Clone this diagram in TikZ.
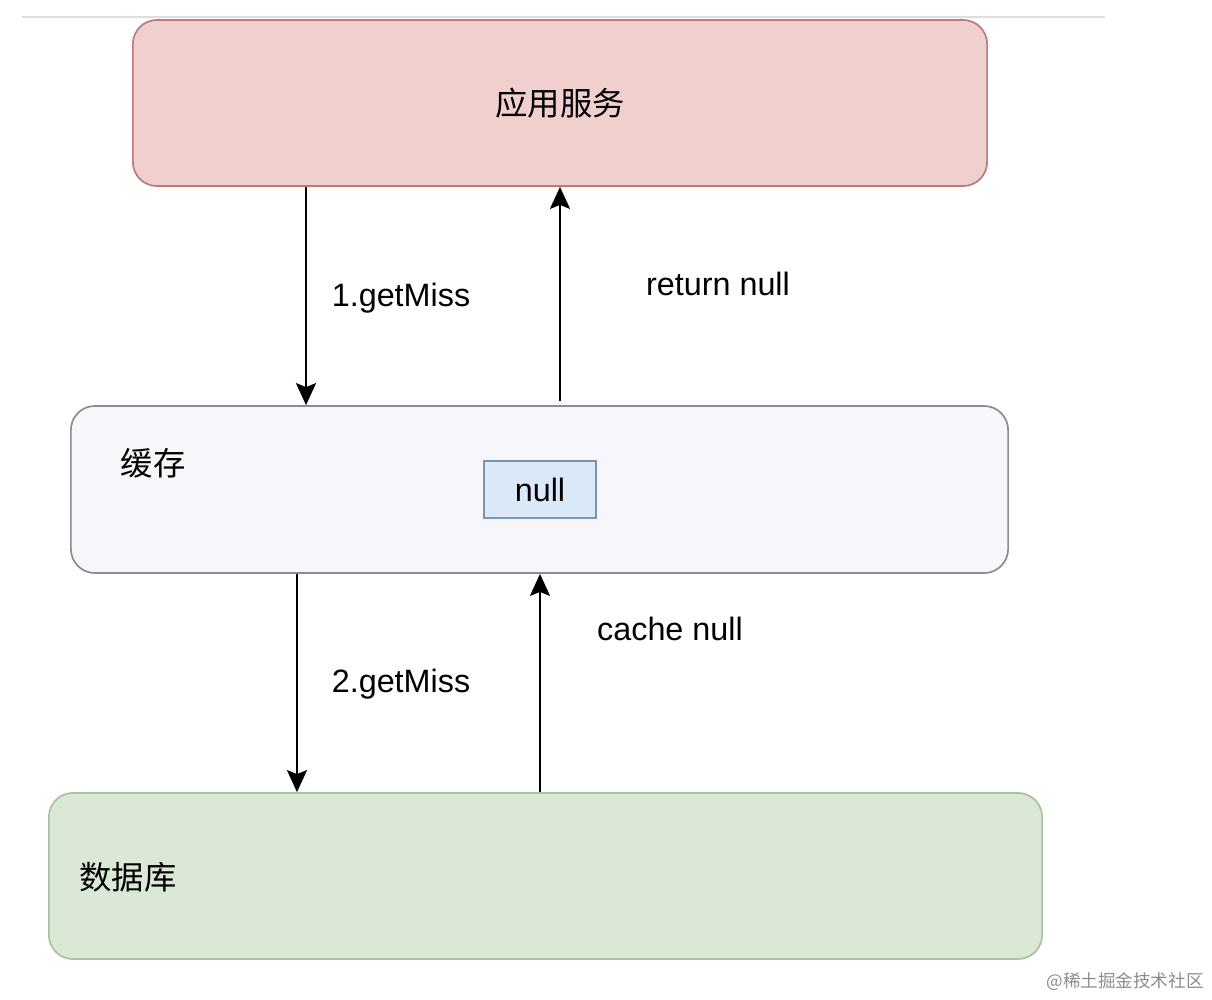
\documentclass[tikz,border=0pt]{standalone}
\usepackage{fontspec}
\setmainfont{Liberation Sans}
\newfontfamily\cjk{Noto Sans CJK SC}
\usepackage{xcolor}
\definecolor{appfill}{RGB}{242, 207, 207}
\definecolor{appdraw}{RGB}{188, 122, 122}
\definecolor{cachefill}{RGB}{247, 246, 250}
\definecolor{cachedraw}{RGB}{140, 140, 140}
\definecolor{nullfill}{RGB}{218, 232, 248}
\definecolor{nulldraw}{RGB}{125, 148, 176}
\definecolor{dbfill}{RGB}{220, 232, 214}
\definecolor{dbdraw}{RGB}{169, 194, 157}
\usetikzlibrary{arrows.meta, positioning}

\begin{document}
\begin{tikzpicture}[
    x=0.025cm, y=-0.025cm,
    layer/.style={rectangle, rounded corners=0.6cm, line width=1.2pt, inner sep=0pt,
                  font=\fontsize{23}{27}\selectfont},
    txt/.style={inner sep=0pt, font=\fontsize{23}{27}\selectfont},
    flow/.style={line width=1.8pt, -{Stealth[length=0.55cm, width=0.5cm, inset=0.1cm]}}
]
    \useasboundingbox (0,0) rectangle (1212,1000);
    % thin rule at the top
    \draw[black!13, line width=1.2pt] (22,17) -- (1105,17);

    % three layers
    \node[layer, fill=appfill, draw=appdraw, minimum width=21.35cm, minimum height=4.15cm] (app) at (560,103) {\cjk 应用服务};
    \node[layer, fill=cachefill, draw=cachedraw, minimum width=23.425cm, minimum height=4.175cm] (cache) at (539.5,489.5) {};
    \node[layer, fill=dbfill, draw=dbdraw, minimum width=24.825cm, minimum height=4.15cm] (db) at (545.5,876) {};
    \node[txt] (cachename) at (153,463) {\cjk 缓存};
    \node[txt] (dbname) at (128,877) {\cjk 数据库};
    \node[rectangle, fill=nullfill, draw=nulldraw, line width=1.2pt, minimum width=2.8cm, minimum height=1.425cm,
          font=\fontsize{23}{27}\selectfont] (nullval) at (540,489.5) {null};

    % connectors
    \coordinate (getone) at (306,0);
    \coordinate (retnull) at (560,0);
    \coordinate (gettwo) at (297,0);
    \coordinate (cachenull) at (540,0);
    \draw[flow] (app.south -| getone) -- (cache.north -| getone);
    \draw[flow] ([yshift=0.1cm]cache.north -| retnull) -- (app.south -| retnull);
    \draw[flow] (cache.south -| gettwo) -- (db.north -| gettwo);
    \draw[flow] (db.north -| cachenull) -- (cache.south -| cachenull);

    % labels
    \node[txt] (lgetone) at (401,298) {1.getMiss};
    \node[txt] (lretnull) at (718,284) {return null};
    \node[txt] (lgettwo) at (401,684) {2.getMiss};
    \node[txt] (lcachenull) at (670,629) {cache null};

    \node[inner sep=0pt, text=black!45, font=\fontsize{12.5}{15}\selectfont\cjk] (mark) at (1125,982) {@稀土掘金技术社区};
\end{tikzpicture}
\end{document}
